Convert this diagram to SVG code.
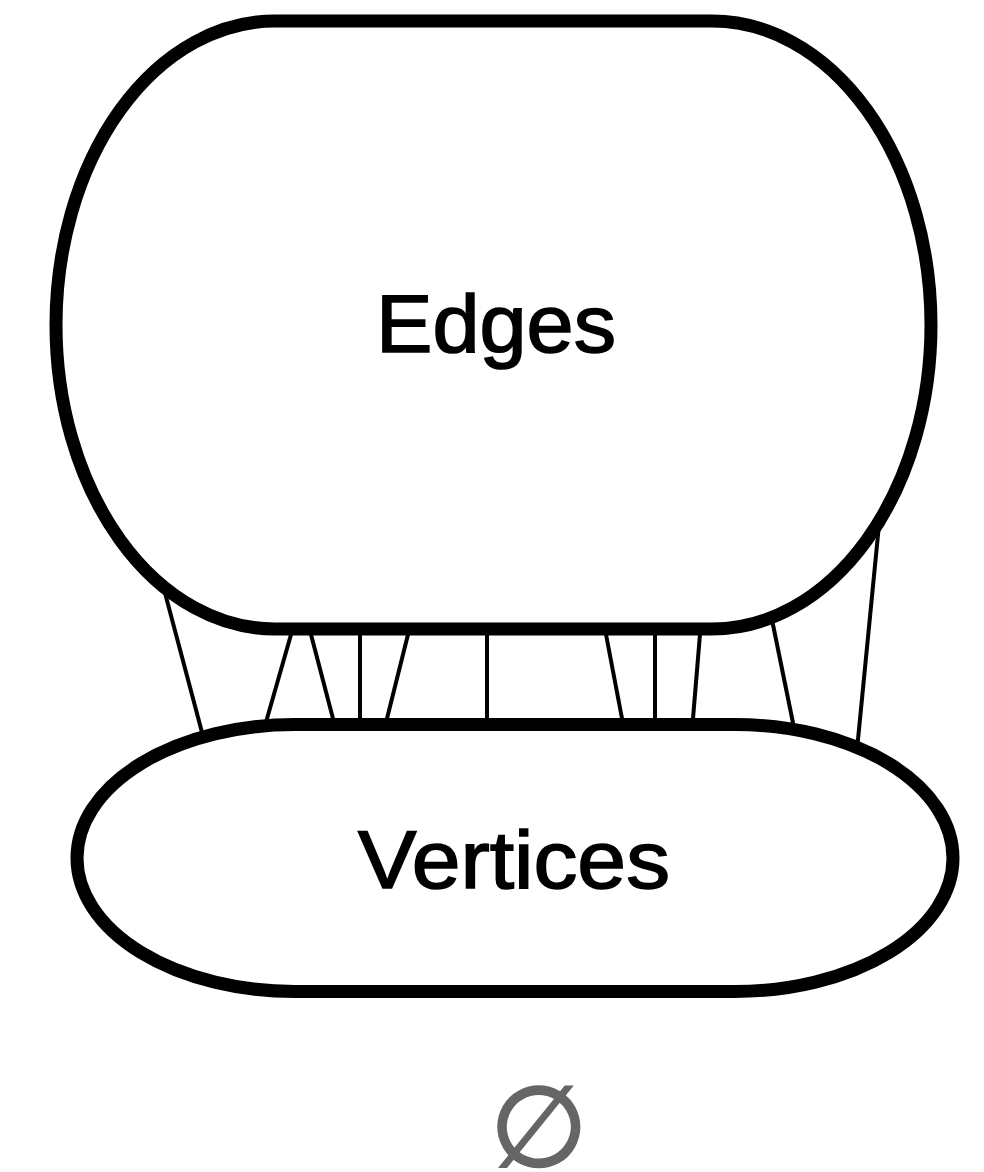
<svg xmlns="http://www.w3.org/2000/svg" width="984" height="1172" viewBox="0 0 984 1172">
  <style>
    .node { fill: #ffffff; stroke: #000000; stroke-width: 13; }
    .conn { stroke: #000000; stroke-width: 4; fill: none; }
    .label { font-family: "Liberation Sans", Arial, Helvetica, sans-serif; font-size: 82px; fill: #000000; stroke: #000000; stroke-width: 1.6; text-anchor: middle; }
    .empty { font-family: "DejaVu Sans", "Liberation Sans", sans-serif; font-size: 112px; fill: #666666; stroke: #666666; stroke-width: 2.5; text-anchor: middle; }
  </style>
  <rect width="984" height="1172" fill="#ffffff"/>
  <g id="connectors">
    <line class="conn" x1="158.9" y1="570" x2="208" y2="755"/>
    <line class="conn" x1="296.6" y1="615" x2="260.9" y2="740"/>
    <line class="conn" x1="305.9" y1="615" x2="338.6" y2="740"/>
    <line class="conn" x1="360" y1="615" x2="360" y2="740"/>
    <line class="conn" x1="412.9" y1="615" x2="381.6" y2="740"/>
    <line class="conn" x1="487" y1="615" x2="487" y2="740"/>
    <line class="conn" x1="602.3" y1="615" x2="626.1" y2="740"/>
    <line class="conn" x1="655" y1="615" x2="655" y2="740"/>
    <line class="conn" x1="701.6" y1="615" x2="691.2" y2="740"/>
    <line class="conn" x1="769" y1="605" x2="797.5" y2="745"/>
    <line class="conn" x1="881.4" y1="500" x2="856" y2="760"/>
  </g>
  <g id="node-edges">
    <rect class="node" x="56" y="21" width="875" height="608" rx="219" ry="304"/>
    <text class="label" x="496" y="352" textLength="240" lengthAdjust="spacingAndGlyphs">Edges</text>
  </g>
  <g id="node-vertices">
    <rect class="node" x="77" y="724.5" width="876" height="267" rx="218" ry="133.5"/>
    <text class="label" x="514" y="888" textLength="312" lengthAdjust="spacingAndGlyphs">Vertices</text>
  </g>
  <g id="empty-set">
    <text class="empty" x="539" y="1166">∅</text>
  </g>
</svg>
